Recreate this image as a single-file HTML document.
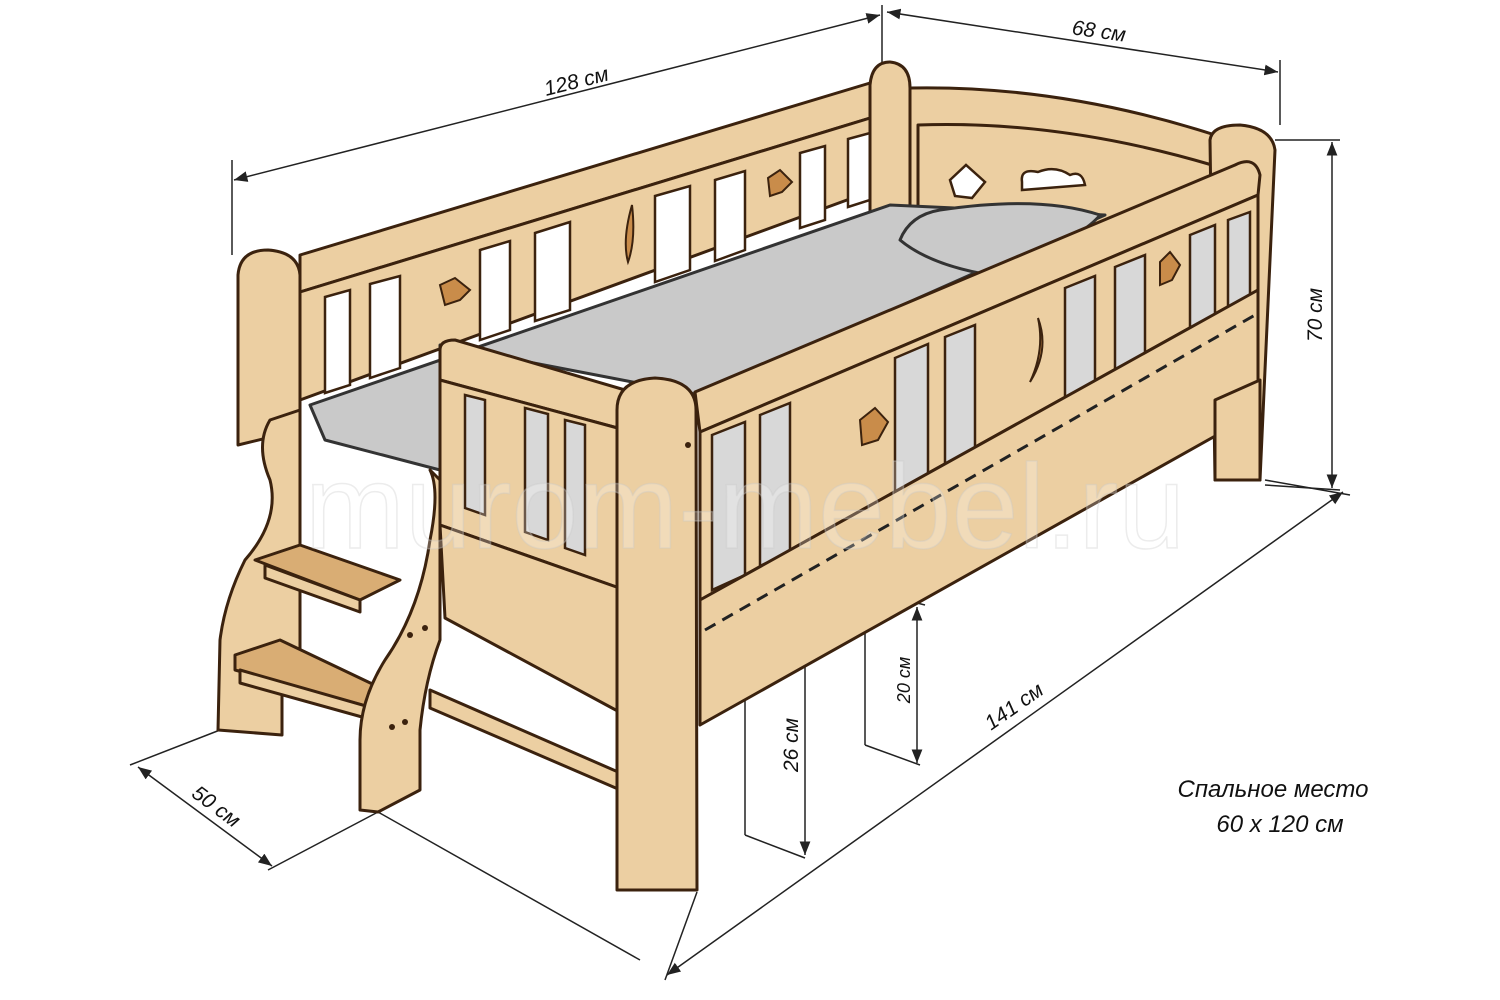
<!DOCTYPE html>
<html><head><meta charset="utf-8"><style>
html,body{margin:0;padding:0;background:#fff}
svg{display:block}
text{font-family:"Liberation Sans",sans-serif;font-style:italic;fill:#111}
</style></head><body>
<svg width="1500" height="1000" viewBox="0 0 1500 1000" xmlns="http://www.w3.org/2000/svg">
<defs>
<style>
.w{fill:#eccfa2;stroke:#3b220e;stroke-width:3;stroke-linejoin:round}
.d{fill:#d9ad74;stroke:#3b220e;stroke-width:3;stroke-linejoin:round}
.m{fill:#c9c9c9;stroke:#333;stroke-width:3;stroke-linejoin:round}
.h{fill:#fff;stroke:#3b220e;stroke-width:2.5}
.g{fill:#d8d8d8;stroke:#3b220e;stroke-width:2.5}
.dim{stroke:#222;stroke-width:1.5;fill:none}
</style>
<marker id="a" viewBox="0 0 10 10" refX="10" refY="5" markerWidth="9" markerHeight="9" orient="auto-start-reverse"><path d="M0,1 L10,5 L0,9 z" fill="#222"/></marker>
</defs>

<g class="dim">
<line x1="232" y1="160" x2="232" y2="255"/><line x1="882" y1="5" x2="882" y2="70"/>
<line x1="234" y1="180" x2="880" y2="15" marker-start="url(#a)" marker-end="url(#a)"/>
<line x1="1280" y1="60" x2="1280" y2="125"/>
<line x1="887" y1="12" x2="1278" y2="72" marker-start="url(#a)" marker-end="url(#a)"/>
<line x1="1275" y1="140" x2="1340" y2="140"/><line x1="1265" y1="485" x2="1340" y2="490"/>
<line x1="1332" y1="142" x2="1332" y2="488" marker-start="url(#a)" marker-end="url(#a)"/>
<line x1="697" y1="892" x2="665" y2="980"/><line x1="1265" y1="480" x2="1350" y2="495"/>
<line x1="667" y1="975" x2="1343" y2="492" marker-start="url(#a)" marker-end="url(#a)"/>
<line x1="220" y1="730" x2="130" y2="765"/><line x1="378" y1="812" x2="268" y2="870"/>
<line x1="138" y1="767" x2="272" y2="866" marker-start="url(#a)" marker-end="url(#a)"/>
<line x1="378" y1="812" x2="640" y2="960"/>
<line x1="745" y1="615" x2="745" y2="835"/><line x1="745" y1="835" x2="805" y2="858"/><line x1="745" y1="615" x2="815" y2="635"/>
<line x1="805" y1="637" x2="805" y2="855" marker-start="url(#a)" marker-end="url(#a)"/>
<line x1="865" y1="590" x2="865" y2="745"/><line x1="865" y1="745" x2="920" y2="765"/><line x1="865" y1="590" x2="925" y2="605"/>
<line x1="917" y1="607" x2="917" y2="763" marker-start="url(#a)" marker-end="url(#a)"/>
</g>
<text x="578" y="88" font-size="21" transform="rotate(-14 578 88)" text-anchor="middle">128 см</text>
<text x="1098" y="38" font-size="21" transform="rotate(8 1098 38)" text-anchor="middle">68 см</text>
<text x="1322" y="315" font-size="21" transform="rotate(-90 1322 315)" text-anchor="middle">70 см</text>
<text x="1018" y="712" font-size="21" transform="rotate(-35 1018 712)" text-anchor="middle">141 см</text>
<text x="212" y="812" font-size="21" transform="rotate(37 212 812)" text-anchor="middle">50 см</text>
<text x="798" y="745" font-size="21" transform="rotate(-90 798 745)" text-anchor="middle">26 см</text>
<text x="910" y="680" font-size="18" transform="rotate(-90 910 680)" text-anchor="middle">20 см</text>
<text x="1273" y="797" font-size="24" text-anchor="middle">Спальное место</text>
<text x="1280" y="832" font-size="24" text-anchor="middle">60 х 120 см</text>

<path class="w" d="M238,275 Q240,250 268,250 Q298,252 300,275 L300,430 L238,445 Z"/>
<path class="w" d="M300,255 L880,80 L880,115 L300,292 Z"/>
<path class="w" d="M300,292 L880,115 L888,185 L300,400 Z"/>
<g class="h">
<path d="M325,297 L350,290 L350,385 L325,393Z"/><path d="M370,284 L400,276 L400,368 L370,378Z"/>
<path d="M480,250 L510,241 L510,330 L480,340Z"/><path d="M535,233 L570,222 L570,310 L535,321Z"/>
<path d="M655,196 L690,186 L690,270 L655,282Z"/><path d="M715,180 L745,171 L745,250 L715,261Z"/>
<path d="M800,153 L825,146 L825,220 L800,228Z"/><path d="M848,139 L870,133 L870,200 L848,207Z"/>
</g>
<path d="M440,285 L455,278 L470,290 L460,300 L445,305Z" fill="#c98c4a" stroke="#3b220e" stroke-width="2"/>
<path d="M768,178 L780,170 L792,182 L782,192 L770,196Z" fill="#c98c4a" stroke="#3b220e" stroke-width="2"/>
<path d="M632,205 Q622,240 628,262 Q636,240 632,205Z" fill="#c98c4a" stroke="#3b220e" stroke-width="2"/>
<path class="w" d="M870,85 Q872,62 890,62 Q910,64 910,88 L910,240 L870,250 Z"/>
<path class="w" d="M910,88 Q1060,85 1215,135 L1215,240 L910,240 Z"/>
<path class="w" d="M918,125 Q1060,120 1212,165 L1212,250 L918,250 Z"/>
<path d="M950,180 L966,165 L985,182 L972,198 L955,196Z" fill="#fff" stroke="#3b220e" stroke-width="2.5"/>
<path d="M1022,182 Q1020,168 1038,172 Q1055,165 1070,175 Q1082,170 1085,185 L1022,190Z" fill="#fff" stroke="#3b220e" stroke-width="2.5"/>
<path class="w" d="M1210,140 Q1212,125 1240,125 Q1272,128 1275,150 L1260,480 L1215,480 Z"/>

<path class="m" d="M310,405 L890,205 L1105,215 L700,395 L440,345 L440,470 L325,440 Z"/>
<path class="m" d="M900,240 Q910,215 940,210 Q1040,195 1100,215 Q1080,240 990,275 Q930,265 900,240Z"/>

<path class="w" d="M695,392 L1235,165 Q1255,155 1260,175 L1258,195 L700,432 Z"/>
<path class="w" d="M700,432 L1258,195 L1258,290 L700,600 Z"/>
<g class="g">
<path d="M712,435 L745,422 L745,575 L712,590Z"/><path d="M760,415 L790,403 L790,552 L760,566Z"/>
<path d="M895,358 L928,344 L928,480 L895,496Z"/><path d="M945,337 L975,325 L975,455 L945,470Z"/>
<path d="M1065,288 L1095,276 L1095,395 L1065,410Z"/><path d="M1115,267 L1145,255 L1145,370 L1115,385Z"/>
<path d="M1190,235 L1215,225 L1215,330 L1190,342Z"/><path d="M1228,220 L1250,212 L1250,310 L1228,320Z"/>
</g>
<path d="M860,420 L875,408 L888,422 L878,440 L862,445Z" fill="#c98c4a" stroke="#3b220e" stroke-width="2"/>
<path d="M1160,262 L1170,252 L1180,265 L1172,280 L1160,285Z" fill="#c98c4a" stroke="#3b220e" stroke-width="2"/>
<path d="M1038,318 Q1050,350 1030,382 Q1045,350 1038,318Z" fill="#c98c4a" stroke="#3b220e" stroke-width="2"/>
<path class="w" d="M700,600 L1258,290 L1258,412 L700,725 Z"/>
<line x1="705" y1="630" x2="1255" y2="315" stroke="#222" stroke-width="3" stroke-dasharray="12,8"/>
<path class="w" d="M1215,400 L1260,380 L1260,480 L1215,480 Z"/>

<path class="w" d="M440,350 Q440,340 455,340 L625,390 L625,430 L440,380 Z"/>
<path class="w" d="M440,380 L625,430 L625,590 L440,525 Z"/>
<g class="g">
<path d="M465,395 L485,400 L485,515 L465,508Z"/><path d="M525,408 L548,414 L548,540 L525,532Z"/><path d="M565,420 L585,425 L585,555 L565,548Z"/>
</g>
<path class="w" d="M440,525 L625,590 L625,715 L445,618 Z"/>
<path class="w" d="M430,690 L625,775 L625,792 L430,708 Z"/>
<path class="w" d="M617,410 Q617,380 655,378 Q696,380 696,410 L697,890 L617,890 Z"/>
<circle cx="688" cy="445" r="3" fill="#3b220e"/>

<path class="w" d="M300,410 L270,420 Q255,445 270,480 Q280,520 245,560 Q225,600 220,640 L218,730 L282,735 L282,690 L300,690 Z"/>
<path class="d" d="M255,560 L300,545 L400,580 L360,600 Z"/>
<path class="d" d="M235,655 L280,640 L385,690 L380,710 L235,670 Z"/>
<path class="w" d="M265,565 L360,600 L360,612 L265,578 Z"/>
<path class="w" d="M240,670 L380,710 L380,722 L240,683 Z"/>
<path class="w" d="M430,470 Q440,490 430,540 Q420,610 385,660 Q360,700 360,740 L360,810 L378,812 L420,790 L420,730 Q425,680 440,640 L440,480 Z"/>
<circle cx="410" cy="635" r="3" fill="#3b220e"/><circle cx="425" cy="628" r="3" fill="#3b220e"/>
<circle cx="392" cy="727" r="3" fill="#3b220e"/><circle cx="405" cy="722" r="3" fill="#3b220e"/>

<text x="745" y="548" font-size="120" text-anchor="middle" style="font-style:normal;fill:rgba(255,255,255,0.25);stroke:rgba(200,200,200,0.35);stroke-width:1.5">murom-mebel.ru</text>
</svg>
</body></html>
